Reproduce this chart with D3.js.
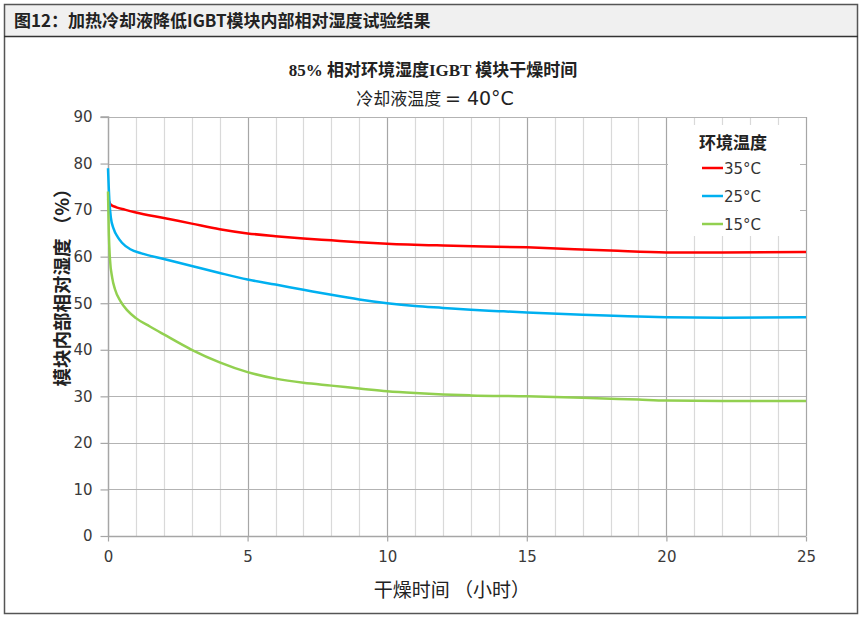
<!DOCTYPE html>
<html><head><meta charset="utf-8">
<script src="https://cdn.jsdelivr.net/npm/d3@7"></script>
<style>body{margin:0;background:#fff}svg{display:block}</style>
</head><body>
<svg id="c" width="865" height="618"></svg>
<script>
const headerTitle = "图12：加热冷却液降低IGBT模块内部相对湿度试验结果";
const title1 = "85% 相对环境湿度IGBT 模块干燥时间";
const title2a = "冷却液温度 ";
const title2b = "= 40°C";
const xLabel = "干燥时间 （小时）";
const yLabel = "模块内部相对湿度 （%）";
const legendTitle = "环境温度";
const seriesNames = ["35°C", "25°C", "15°C"];
const seriesColors = ["#ff0000", "#00b0f0", "#92d050"];
const xTicks = [0, 5, 10, 15, 20, 25];
const yTicks = [0, 10, 20, 30, 40, 50, 60, 70, 80, 90];

const t35 = [0, 0.05, 0.1, 0.3, 0.6, 1, 2, 3, 4, 5, 6, 7, 8, 9, 10, 12, 15, 18, 20, 22, 25];
const v35 = [72.5, 71.7, 71.2, 70.6, 70.1, 69.5, 68.3, 67.1, 65.9, 65.0, 64.4, 63.9, 63.5, 63.1, 62.8, 62.4, 62.0, 61.3, 60.9, 60.9, 61.0];
const t25 = [0, 0.05, 0.1, 0.2, 0.35, 0.5, 0.8, 1.2, 2, 3, 4, 5, 6, 7, 8, 9, 10, 11, 12, 13, 14, 15, 17, 20, 22, 25];
const v25 = [79, 72, 68.5, 66, 64.2, 63.0, 61.6, 60.7, 59.5, 58.0, 56.5, 55.1, 54.0, 52.9, 51.8, 50.8, 50.0, 49.4, 49.0, 48.6, 48.3, 48.0, 47.5, 47.0, 46.9, 47.0];
const t15 = [0, 0.03, 0.07, 0.15, 0.25, 0.45, 0.7, 1, 1.5, 2, 3, 4, 5, 6, 7, 8, 9, 10, 11, 12, 13, 15, 17, 19, 20, 22, 25];
const v15 = [74, 65, 59.5, 55.5, 53, 50.4, 48.4, 46.8, 45.0, 43.3, 40, 37.3, 35.2, 33.8, 32.9, 32.3, 31.7, 31.1, 30.7, 30.4, 30.2, 30.0, 29.7, 29.3, 29.1, 29.0, 29.0];

const series = [
  {name: seriesNames[0], color: seriesColors[0], t: t35, v: v35},
  {name: seriesNames[1], color: seriesColors[1], t: t25, v: v25},
  {name: seriesNames[2], color: seriesColors[2], t: t15, v: v15}
];

const svg = d3.select("#c");
// outer frame & header
svg.append("rect").attr("x", 4.5).attr("y", 4.5).attr("width", 853).attr("height", 32)
  .attr("fill", "#f0f0f0");
svg.append("rect").attr("x", 4.5).attr("y", 4.5).attr("width", 853).attr("height", 609)
  .attr("fill", "none").attr("stroke", "#555").attr("stroke-width", 1.5);
svg.append("line").attr("x1", 4).attr("x2", 858).attr("y1", 36.5).attr("y2", 36.5)
  .attr("stroke", "#333").attr("stroke-width", 1.5);
svg.append("text").attr("x", 14).attr("y", 27).text(headerTitle)
  .attr("font-family", "Noto Sans CJK SC").attr("font-weight", "bold")
  .attr("font-size", 17).attr("fill", "#222");

const x = d3.scaleLinear().domain([0, 25]).range([108, 806]);
const y = d3.scaleLinear().domain([0, 90]).range([536, 117]);

const g = svg.append("g");
g.selectAll(".vmin").data(d3.range(1, 26)).enter().append("line")
  .attr("x1", d => Math.round(x(d)) + 0.5).attr("x2", d => Math.round(x(d)) + 0.5)
  .attr("y1", y(90)).attr("y2", y(0))
  .attr("stroke", d => d % 5 === 0 ? "#a6a6a6" : "#d9d9d9").attr("stroke-width", 1.2);
g.selectAll(".hg").data(yTicks.filter(d => d > 0)).enter().append("line")
  .attr("x1", x(0)).attr("x2", x(25))
  .attr("y1", d => Math.round(y(d)) + 0.5).attr("y2", d => Math.round(y(d)) + 0.5)
  .attr("stroke", "#b3b3b3").attr("stroke-width", 1.2);

// axes
const xAxis = d3.axisBottom(x).tickValues(xTicks).tickSize(5).tickPadding(10);
const yAxis = d3.axisLeft(y).tickValues(yTicks).tickSize(8).tickPadding(8);
const gx = svg.append("g").attr("transform", `translate(0,${Math.round(y(0)) + 0.5})`).call(xAxis);
const gy = svg.append("g").attr("transform", `translate(${Math.round(x(0)) + 0.5},0)`).call(yAxis);
[gx, gy].forEach(a => {
  a.select(".domain").attr("stroke", "#a6a6a6").attr("stroke-width", 1.5);
  a.selectAll(".tick line").attr("stroke", "#a6a6a6").attr("stroke-width", 1.2);
  a.selectAll(".tick text").attr("font-family", "DejaVu Sans").attr("font-size", 15).attr("fill", "#3a3a3a");
});
gy.select(".domain").attr("d", `M-8,${y(90)}H0V${y(0)}`);
gx.select(".domain").attr("d", `M${x(0)},0H${x(25)}`);

// lines
const line = d3.line().x(d => x(d[0])).y(d => y(d[1])).curve(d3.curveMonotoneX);
series.forEach(s => {
  svg.append("path").datum(s.t.map((t, i) => [t, s.v[i]]))
    .attr("d", line).attr("fill", "none").attr("stroke", s.color).attr("stroke-width", 2.5);
});

// legend
const lg = svg.append("g");
lg.append("rect").attr("x", 668).attr("y", 125).attr("width", 132).attr("height", 111).attr("fill", "#fff");
lg.append("text").attr("x", 733).attr("y", 149).attr("text-anchor", "middle").text(legendTitle)
  .attr("font-family", "Noto Sans CJK SC").attr("font-weight", "bold").attr("font-size", 17).attr("fill", "#222");
series.forEach((s, i) => {
  const yy = 168 + i * 28;
  lg.append("line").attr("x1", 702).attr("x2", 723).attr("y1", yy).attr("y2", yy)
    .attr("stroke", s.color).attr("stroke-width", 2.5);
  lg.append("text").attr("x", 724).attr("y", yy + 5.5).text(s.name)
    .attr("font-family", "DejaVu Sans").attr("font-size", 15).attr("fill", "#333");
});

// titles
svg.append("text").attr("x", 433).attr("y", 76).attr("text-anchor", "middle").text(title1)
  .attr("font-family", "Liberation Serif, Noto Sans CJK SC").attr("font-weight", "bold").attr("font-size", 17).attr("fill", "#222");
svg.append("text").attr("x", 435).attr("y", 105).attr("text-anchor", "middle")
  .attr("font-family", "Noto Sans CJK SC").attr("font-size", 17).attr("fill", "#222")
  .call(t => {
    t.append("tspan").text(title2a);
    t.append("tspan").attr("font-family", "DejaVu Sans").attr("font-size", 19).text(title2b);
  });
svg.append("text").attr("x", 452).attr("y", 597).attr("text-anchor", "middle").text(xLabel)
  .attr("font-family", "Noto Sans CJK SC").attr("font-size", 19).attr("fill", "#222");
svg.append("text").attr("transform", `translate(69,283) rotate(-90)`).attr("text-anchor", "middle").text(yLabel)
  .attr("font-family", "Noto Sans CJK SC").attr("font-weight", "bold").attr("font-size", 18.5).attr("fill", "#222");
</script>
</body></html>
